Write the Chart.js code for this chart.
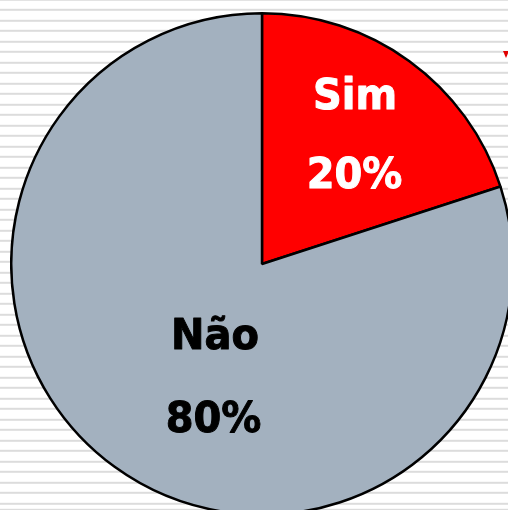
<!DOCTYPE html>
<html>
<head>
<meta charset="utf-8">
<script src="https://cdn.jsdelivr.net/npm/chart.js@4/dist/chart.umd.min.js"></script>
<style>
  html, body { margin:0; padding:0; width:508px; height:510px; overflow:hidden; }
  body {
    position:relative;
    background-color:#fff;
    background-image:repeating-linear-gradient(to bottom, #dcdcdc 0px, #dcdcdc 2px, rgba(255,255,255,0) 2px, rgba(255,255,255,0) 10.49px);
    background-position:0 -1.2px;
  }
  #wrap { position:absolute; left:10px; top:12px; width:504px; height:504px; }
  #mark { position:absolute; left:503px; top:51px; width:0; height:0;
    border-left:3px solid transparent; border-right:3px solid transparent; border-top:7px solid #e00000; }
</style>
</head>
<body>
<div id="wrap"><canvas id="chart" width="504" height="504"></canvas></div>
<div id="mark"></div>
<script>
const categories = ['Sim', 'Não'];
const shares = [20, 80];
const pctLabels = ['20%', '80%'];

const sliceColors = ['#ff0000', '#a3b1bf'];
const textColors = ['#ffffff', '#000000'];
// baseline positions from the pie centre, px: [dxName, dyName, dxPct, dyPct]
const labelPos = [[93, -155, 92.5, -76], [-47, 85, -48.5, 168]];

function squatText(ctx, txt, x, y){
  ctx.save();
  ctx.translate(x, y);
  ctx.scale(0.93, 1);
  ctx.strokeText(txt, 0, 0);
  ctx.fillText(txt, 0, 0);
  ctx.restore();
}

const sliceLabels = {
  id: 'sliceLabels',
  afterDatasetsDraw(chart){
    const ctx = chart.ctx;
    const arc = chart.getDatasetMeta(0).data[0];
    if (!arc) return;
    const cx = arc.x, cy = arc.y;
    ctx.save();
    ctx.font = 'bold 43px "DejaVu Sans", Verdana, sans-serif';
    ctx.textAlign = 'center';
    ctx.textBaseline = 'alphabetic';
    ctx.lineWidth = 1;
    ctx.lineJoin = 'round';
    categories.forEach((name, i) => {
      const [dx1, dy1, dx2, dy2] = labelPos[i];
      ctx.fillStyle = textColors[i];
      ctx.strokeStyle = textColors[i];
      squatText(ctx, name, cx + dx1, cy + dy1);
      squatText(ctx, pctLabels[i], cx + dx2, cy + dy2);
    });
    ctx.restore();
  }
};

new Chart(document.getElementById('chart').getContext('2d'), {
  type: 'pie',
  data: {
    labels: categories,
    datasets: [{ data: shares, backgroundColor: sliceColors, borderColor: '#000000', borderWidth: 2.5 }]
  },
  options: {
    responsive: false,
    animation: false,
    layout: { padding: 0 },
    plugins: { legend: { display: false }, tooltip: { enabled: false } }
  },
  plugins: [sliceLabels]
});
</script>
</body>
</html>
